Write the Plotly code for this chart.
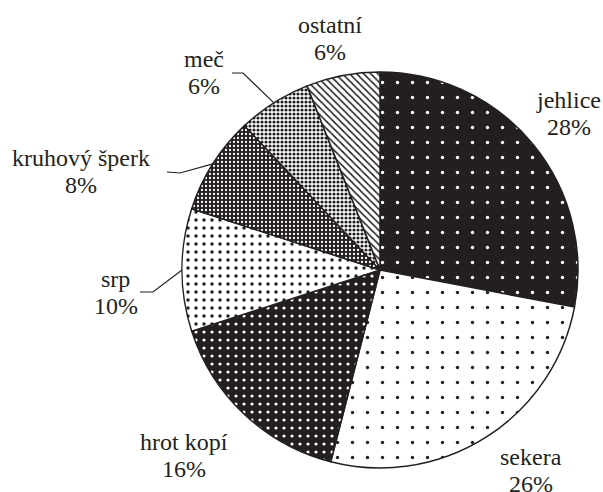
import math
import plotly.graph_objects as go

# Finds by type (share of all finds, %)
categories = ["jehlice", "sekera", "hrot kopí", "srp", "kruhový šperk", "meč", "ostatní"]
shares = [28, 26, 16, 10, 8, 6, 6]

W, H = 603, 492
CX, CY, R = 380, 270, 198          # pie centre and radius in pixels
INK = "#231f20"
FONT = dict(family="Liberation Serif", size=24, color=INK)
LINE_GAP = 27                      # distance between the two label lines (px)

# Fill patterns per slice: (shape, background, foreground, spacing, solidity)
patterns = [
    (".", INK, "white", 15, 0.04),
    (".", "white", INK, 15, 0.04),
    (".", INK, "white", 8, 0.12),
    (".", "white", INK, 8, 0.15),
    (".", INK, "white", 4, 0.25),
    (".", "white", INK, 4, 0.50),
    ("\\", "white", INK, 5, 0.30),
]

# Label placement: distance from centre (px) and angular nudge (deg) from slice middle
label_dist = [245, 251, 270, 265, 315, 264, 237]
label_nudge = [0.0, -4.6, 3.4, -4.8, -14.1, -9.3, -1.4]

# Leader lines (label end, elbow) for the slices labelled away from the pie
leaders = {
    "srp": [(140, 292), (153, 292)],
    "kruhový šperk": [(167, 172), (180, 173)],
    "meč": [(232, 73), (243, 73)],
}


def paper(x, y):
    return x / W, 1 - y / H


fig = go.Figure(
    go.Pie(
        labels=categories,
        values=shares,
        sort=False,
        direction="clockwise",
        rotation=0,
        textinfo="none",
        hoverinfo="label+percent",
        showlegend=False,
        domain=dict(x=[(CX - R) / W, (CX + R) / W], y=[1 - (CY + R) / H, 1 - (CY - R) / H]),
        marker=dict(
            colors=[p[1] for p in patterns],
            line=dict(color=INK, width=1.5),
            pattern=dict(
                shape=[p[0] for p in patterns],
                bgcolor=[p[1] for p in patterns],
                fgcolor=[p[2] for p in patterns],
                size=[p[3] for p in patterns],
                solidity=[p[4] for p in patterns],
                fillmode="replace",
            ),
        ),
    )
)

total = sum(shares)
start = 0.0
annotations = []
shapes = []
for name, val, dist, nudge in zip(categories, shares, label_dist, label_nudge):
    span = 360.0 * val / total
    mid = start + span / 2
    start += span
    a = math.radians(mid + nudge)
    lx, ly = CX + dist * math.sin(a), CY - dist * math.cos(a)
    px, py = paper(lx, ly)
    pct = round(100 * val / total)
    for txt, shift in ((name, LINE_GAP / 2), (f"{pct}%", -LINE_GAP / 2)):
        annotations.append(dict(
            x=px, y=py, xref="paper", yref="paper", yshift=shift,
            text=txt, showarrow=False, font=FONT,
            xanchor="center", yanchor="middle",
        ))
    if name in leaders:
        m = math.radians(mid)
        ex, ey = CX + R * math.sin(m), CY - R * math.cos(m)
        (x0, y0), (x1, y1) = leaders[name]
        pts = [paper(x0, y0), paper(x1, y1), paper(ex, ey)]
        path = "M " + " L ".join(f"{u:.5f},{v:.5f}" for u, v in pts)
        shapes.append(dict(type="path", path=path, xref="paper", yref="paper",
                           line=dict(color=INK, width=1.2)))

fig.update_layout(
    width=W, height=H,
    margin=dict(l=0, r=0, t=0, b=0),
    paper_bgcolor="white", plot_bgcolor="white",
    annotations=annotations,
    shapes=shapes,
)

fig.write_html("out.html")
